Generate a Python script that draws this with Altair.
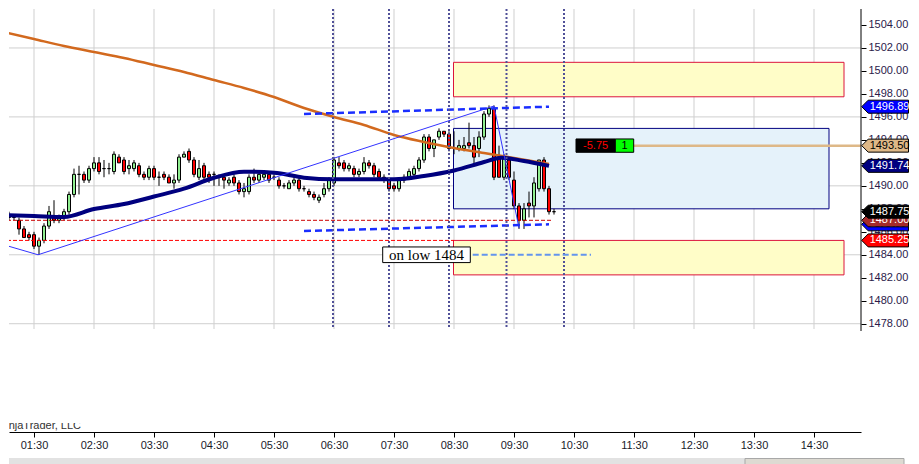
import altair as alt
import pandas as pd

# ---------------- data ----------------
# 5-minute bars, time in minutes after midnight
bar_times = list(range(60, 615, 5))
opens = [1487.75,1487.25,1487.25,1487.0,1486.25,1485.75,1485.75,1484.75,1485.25,1486.5,
         1487.25,1487.0,1487.25,1487.75,1489.25,1491.0,1491.0,1490.5,1491.5,1492.0,
         1491.5,1491.5,1491.25,1492.5,1492.25,1491.5,1491.5,1491.75,1491.0,1490.75,
         1491.5,1490.75,1491.0,1490.75,1490.25,1490.5,1492.5,1493.0,1492.25,1490.75,
         1491.75,1491.0,1491.0,1490.75,1490.75,1490.25,1490.75,1490.25,1489.5,1489.5,
         1490.75,1490.5,1490.75,1491.0,1490.75,1490.5,1490.0,1489.75,1490.25,1490.5,
         1489.75,1489.5,1489.25,1488.75,1489.25,1489.75,1490.25,1492.0,1492.0,1491.5,
         1491.5,1491.0,1491.25,1492.0,1491.75,1491.25,1490.75,1490.5,1490.0,1489.75,
         1490.5,1490.75,1491.0,1491.5,1492.25,1494.25,1493.25,1494.25,1494.75,1494.5,
         1493.25,1493.25,1493.25,1493.75,1493.5,1493.25,1494.25,1496.25,1496.75,1492.5,
         1490.75,1492.25,1490.5,1488.25,1487.0,1488.5,1488.25,1489.75,1492.25,1489.75,
         1487.75]
highs = [1488.5,1487.75,1487.5,1487.25,1486.5,1486.0,1486.0,1485.5,1486.75,1488.25,
         1488.75,1487.5,1488.0,1489.5,1491.5,1491.75,1491.25,1491.75,1492.5,1492.5,
         1492.25,1492.0,1493.0,1492.75,1492.5,1492.25,1492.25,1492.0,1491.25,1491.75,
         1491.75,1491.25,1491.25,1491.0,1491.0,1492.75,1493.0,1493.25,1492.5,1492.25,
         1492.0,1491.25,1491.25,1491.0,1491.0,1490.75,1491.0,1490.5,1490.25,1491.0,
         1491.5,1491.25,1491.25,1491.25,1491.0,1490.75,1490.25,1490.5,1490.75,1490.75,
         1490.0,1489.75,1489.5,1489.25,1490.25,1490.75,1492.5,1492.5,1492.25,1492.0,
         1491.75,1491.5,1492.5,1492.25,1492.0,1491.5,1491.0,1490.75,1490.25,1490.75,
         1491.0,1491.5,1491.75,1492.5,1494.5,1494.5,1494.0,1495.0,1494.75,1494.75,
         1494.75,1494.0,1494.25,1495.5,1494.25,1494.75,1496.5,1497.0,1497.0,1493.5,
         1492.75,1492.5,1491.25,1488.5,1488.5,1489.5,1490.75,1492.25,1492.5,1490.0,
         1488.0]
lows = [1487.25,1487.0,1487.0,1485.75,1485.5,1485.25,1484.5,1484.0,1485.0,1486.25,
        1486.75,1486.75,1487.0,1487.5,1489.0,1489.25,1490.25,1490.25,1491.25,1491.0,
        1490.75,1491.0,1491.0,1492.0,1491.0,1491.0,1491.25,1490.75,1490.5,1490.5,
        1490.5,1490.0,1490.5,1490.25,1489.75,1490.25,1492.5,1492.0,1490.75,1490.5,
        1490.5,1490.25,1490.0,1490.0,1489.75,1490.0,1490.0,1489.25,1489.0,1489.25,
        1490.25,1490.25,1490.5,1490.25,1490.5,1489.75,1489.75,1489.75,1490.0,1489.5,
        1489.5,1489.0,1488.75,1488.5,1489.0,1489.5,1490.0,1491.5,1491.25,1491.25,
        1490.75,1490.75,1491.0,1491.5,1490.75,1490.5,1490.25,1489.5,1489.5,1489.5,
        1490.25,1490.5,1490.75,1491.25,1492.0,1493.0,1492.5,1494.0,1494.25,1493.0,
        1492.75,1493.0,1493.0,1493.25,1491.75,1492.5,1494.0,1496.0,1490.5,1490.75,
        1490.5,1490.5,1488.0,1486.25,1486.25,1487.25,1487.25,1489.5,1489.5,1487.5,
        1487.5]
closes = [1487.5,1487.25,1487.25,1486.25,1485.5,1485.5,1484.75,1485.25,1486.5,1487.75,
          1487.0,1487.25,1487.75,1489.25,1491.0,1491.0,1490.5,1491.5,1492.0,1491.25,
          1491.5,1491.5,1492.75,1492.0,1491.25,1491.75,1492.0,1491.0,1490.75,1491.5,
          1490.75,1490.75,1490.75,1490.25,1490.5,1492.5,1492.75,1492.25,1491.0,1491.5,
          1490.75,1490.75,1491.0,1490.75,1490.5,1490.5,1490.25,1489.5,1489.75,1490.75,
          1490.5,1491.0,1491.0,1490.5,1490.75,1490.0,1490.0,1490.25,1490.5,1489.75,
          1489.75,1489.25,1489.0,1489.0,1489.75,1490.5,1492.25,1491.75,1491.5,1491.75,
          1491.0,1491.25,1492.0,1491.75,1491.0,1490.75,1490.5,1489.75,1489.75,1490.5,
          1490.75,1491.25,1491.5,1492.25,1494.25,1493.25,1494.0,1494.75,1494.5,1493.25,
          1493.25,1493.5,1493.5,1493.5,1492.5,1494.25,1496.25,1496.75,1490.75,1490.75,
          1492.5,1490.75,1488.25,1487.0,1488.0,1488.25,1490.25,1492.25,1489.75,1487.75,
          1487.75]

# orange moving average (sampled)
sma_t = [60, 90, 120, 150, 180, 210, 240, 270, 300, 330, 360, 390, 420, 450, 480, 510, 540, 570, 605]
sma_v = [1503.39, 1502.78, 1502.17, 1501.65, 1501.13, 1500.52, 1499.91, 1499.21, 1498.52, 1497.73,
         1496.77, 1495.99, 1495.30, 1494.43, 1493.82, 1493.29, 1492.86, 1492.42, 1491.90]
# navy moving average (sampled)
ema_t = [60, 90, 120, 150, 180, 210, 240, 270, 300, 330, 360, 390, 420, 450, 480, 510, 540, 557, 580, 605]
ema_v = [1487.46, 1487.38, 1487.29, 1487.98, 1488.42, 1489.07, 1489.75, 1490.70, 1491.23, 1491.14,
         1490.71, 1490.57, 1490.57, 1490.57, 1490.86, 1491.34, 1492.07, 1492.45, 1492.16, 1491.74]

# thin blue swing line
swing_t = [57, 94, 550, 575]
swing_p = [1484.94, 1484.0, 1496.95, 1486.33]
# dashed blue channel lines
chan_id = ["up", "up", "low", "low"]
chan_t = [360, 605, 360, 605]
chan_p = [1496.25, 1496.89, 1486.07, 1486.65]
# red dashed horizontal levels
lvl_p = [1487.00, 1485.25]
lvl_t0 = [57, 57]
lvl_t1 = [607, 510]
lvl_col = ["#CC0000", "#FF0000"]
# dotted vertical markers
vmark_t = [389, 445, 505, 562.5, 620]
# zones
zone_t0 = [509.5, 509.5, 509.5]
zone_t1 = [900, 900, 885]
zone_p0 = [1497.75, 1482.25, 1488.0]
zone_p1 = [1500.75, 1485.25, 1495.0]
zone_fill = ["#FFFDC8", "#FFFDC8", "#E5F2FA"]
zone_stroke = ["#DC143C", "#DC143C", "#000080"]
# position
entry_price = 1493.50
pnl_text = "-5.75"
qty_text = "1"
# note
note_text = "on low 1484"
note_price = 1484.0
# price tags on axis (drawing order)
tag_p = [1496.89, 1493.50, 1491.74, 1486.65, 1487.00, 1487.75, 1485.25]
tag_bg = ["#0000FF", "#DEB887", "#000080", "#0000FF", "#A52A2A", "#000000", "#FF0000"]
tag_fg = ["white", "black", "white", "white", "white", "white", "white"]

grid_t = list(range(90, 871, 60))
grid_p = [1478, 1484, 1490, 1496, 1502]
ytick_vals = list(range(1478, 1506, 2))

# ---------------- scales & axes ----------------
W, H = 852, 423
XS = alt.Scale(domain=[65, 917], nice=False, zero=False)
YS = alt.Scale(domain=[1468.576, 1505.391], nice=False, zero=False)
FONT = "Liberation Sans"
xaxis = alt.Axis(orient="bottom", values=grid_t, title=None, grid=False,
                 domain=True, domainColor="black", domainWidth=1,
                 ticks=True, tickColor="black", tickSize=5, labelPadding=2,
                 labelFont=FONT, labelFontSize=11, labelColor="#1a1a2a",
                 labelFlush=False, labelOverlap=False, zindex=0,
                 labelExpr="(floor(datum.value/60) < 10 ? '0' : '') + floor(datum.value/60) + ':' + ((datum.value % 60) < 10 ? '0' : '') + (datum.value % 60)")
yaxis = alt.Axis(orient="right", values=ytick_vals, title=None, grid=False,
                 domain=False, ticks=True, tickColor="black", tickSize=5, labelPadding=2,
                 labelFont=FONT, labelFontSize=11, labelColor="#2b1a4a",
                 labelFlush=False, labelOverlap=False, zindex=0,
                 labelExpr="format(datum.value, '.2f')")


def X(f):
    return alt.X(f, type="quantitative", scale=XS, axis=xaxis)


def Y(f):
    return alt.Y(f, type="quantitative", scale=YS, axis=yaxis)


layers = []

# grid
layers.append(alt.Chart(pd.DataFrame({"t": grid_t})).mark_rule(color="#CFCFCF", strokeWidth=1)
              .encode(x=X("t"), y=alt.value(0), y2=alt.value(320)))
layers.append(alt.Chart(pd.DataFrame({"p": grid_p})).mark_rule(color="#CFCFCF", strokeWidth=1)
              .encode(y=Y("p"), x=alt.value(0), x2=alt.value(W)))

# zones
zones = pd.DataFrame({"t0": zone_t0, "t1": zone_t1, "p0": zone_p0, "p1": zone_p1,
                      "f": zone_fill, "s": zone_stroke})
layers.append(alt.Chart(zones).mark_rect(strokeWidth=1, clip=True).encode(
    x=X("t0"), x2="t1", y=Y("p0"), y2="p1",
    fill=alt.Fill("f:N", scale=None), stroke=alt.Stroke("s:N", scale=None)))

# candles
cdf = pd.DataFrame({"t": bar_times, "o": opens, "h": highs, "l": lows, "c": closes})
cdf["dir"] = ["up" if c >= o else "down" for o, c in zip(opens, closes)]
cdf["x0"] = cdf["t"] - 1.5
cdf["x1"] = cdf["t"] + 1.5
layers.append(alt.Chart(cdf).mark_rule(color="black", strokeWidth=1, clip=True)
              .encode(x=X("t"), y=Y("l"), y2="h"))
layers.append(alt.Chart(cdf).mark_rect(stroke="black", strokeWidth=1, clip=True).encode(
    x=X("x0"), x2="x1", y=Y("o"), y2="c",
    fill=alt.Fill("dir:N", scale=alt.Scale(domain=["up", "down"], range=["#90EE90", "#FF0000"]), legend=None)))

# moving averages
layers.append(alt.Chart(pd.DataFrame({"t": sma_t, "v": sma_v}))
              .mark_line(color="#D2691E", strokeWidth=2.5, clip=True, interpolate="monotone")
              .encode(x=X("t"), y=Y("v")))
layers.append(alt.Chart(pd.DataFrame({"t": ema_t, "v": ema_v}))
              .mark_line(color="#00007F", strokeWidth=4, clip=True, interpolate="monotone")
              .encode(x=X("t"), y=Y("v")))

# red dashed levels
layers.append(alt.Chart(pd.DataFrame({"p": lvl_p, "t0": lvl_t0, "t1": lvl_t1, "col": lvl_col}))
              .mark_rule(strokeWidth=1, strokeDash=[4, 2], clip=True)
              .encode(x=X("t0"), x2="t1", y=Y("p"), color=alt.Color("col:N", scale=None)))

# thin swing line
layers.append(alt.Chart(pd.DataFrame({"t": swing_t, "p": swing_p}))
              .mark_line(color="#3333FF", strokeWidth=1, clip=True)
              .encode(x=X("t"), y=Y("p")))
# dashed channel lines
layers.append(alt.Chart(pd.DataFrame({"id": chan_id, "t": chan_t, "p": chan_p}))
              .mark_line(color="#1A2EFF", strokeWidth=2.5, strokeDash=[7, 4], clip=True)
              .encode(x=X("t"), y=Y("p"), detail="id:N"))

# dotted verticals
layers.append(alt.Chart(pd.DataFrame({"t": vmark_t}))
              .mark_rule(color="#505098", strokeWidth=2, strokeDash=[2, 2])
              .encode(x=X("t"), y=alt.value(0), y2=alt.value(320)))

# note box "on low 1484"
note = pd.DataFrame({"t0": [438.7], "t1": [526.3], "tc": [482.5],
                     "p0": [note_price - 0.68], "p1": [note_price + 0.68], "pc": [note_price],
                     "s": [note_text], "d0": [528.7], "d1": [647]})
layers.append(alt.Chart(note).mark_rule(color="#6495ED", strokeWidth=2, strokeDash=[6, 3])
              .encode(x=X("d0"), x2="d1", y=Y("pc")))
layers.append(alt.Chart(note).mark_rect(fill="white", stroke="black", strokeWidth=1)
              .encode(x=X("t0"), x2="t1", y=Y("p0"), y2="p1"))
layers.append(alt.Chart(note).mark_text(font="Liberation Serif", fontSize=15, color="black")
              .encode(x=X("tc"), y=Y("pc"), text="s:N"))

# position line and P&L label
pos = pd.DataFrame({"p": [entry_price], "p0": [entry_price - 0.58], "p1": [entry_price + 0.58],
                    "a0": [632.0], "a1": [671.3], "b1": [689.7], "e": [917.0],
                    "ac": [651.6], "bc": [680.5], "pnl": [pnl_text], "q": [qty_text]})
layers.append(alt.Chart(pos).mark_rule(color="#DEB887", strokeWidth=2.5)
              .encode(x=X("b1"), x2="e", y=Y("p")))
layers.append(alt.Chart(pos).mark_rect(fill="black", stroke="black", strokeWidth=1)
              .encode(x=X("a0"), x2="a1", y=Y("p0"), y2="p1"))
layers.append(alt.Chart(pos).mark_rect(fill="#00FF00", stroke="black", strokeWidth=1)
              .encode(x=X("a1"), x2="b1", y=Y("p0"), y2="p1"))
layers.append(alt.Chart(pos).mark_text(font=FONT, fontSize=11, color="#FF0000")
              .encode(x=X("ac"), y=Y("p"), text="pnl:N"))
layers.append(alt.Chart(pos).mark_text(font=FONT, fontSize=11, color="black")
              .encode(x=X("bc"), y=Y("p"), text="q:N"))

# copyright text (top clipped)
cp = pd.DataFrame({"s": ["\u00a9 2013 NinjaTrader, LLC"]})
layers.append(alt.Chart(cp).mark_text(font=FONT, fontSize=11, color="#333333", align="right",
                                      baseline="alphabetic", clip=True)
              .encode(x=alt.value(72), y=alt.value(420), text="s:N"))
layers.append(alt.Chart(cp).mark_rect(color="white")
              .encode(x=alt.value(0), x2=alt.value(100), y=alt.value(400), y2=alt.value(414)))

# right axis line
layers.append(alt.Chart(cp).mark_rule(color="black", strokeWidth=1)
              .encode(x=alt.value(W), y=alt.value(0), y2=alt.value(322)))

# scrollbar strip at the window bottom
layers.append(alt.Chart(cp).mark_rect(fill="#E2E2E2", stroke=None)
              .encode(x=alt.value(0), x2=alt.value(736), y=alt.value(449), y2=alt.value(456)))
layers.append(alt.Chart(cp).mark_rect(fill="#DDDAD2", stroke="#A8A8A8", strokeWidth=1)
              .encode(x=alt.value(736), x2=alt.value(895), y=alt.value(449.5), y2=alt.value(456)))

# price tags
TAG_PATH = "M0,0L1,-1L7.2,-1L7.2,1L1,1Z"
for p, bg, fg in zip(tag_p, tag_bg, tag_fg):
    tdf = pd.DataFrame({"p": [p], "s": [f"{p:.2f}"]})
    layers.append(alt.Chart(tdf).mark_point(shape=TAG_PATH, filled=True, fill=bg, stroke="black",
                                            strokeWidth=1, size=169, opacity=1)
                  .encode(x=alt.value(852.7), y=Y("p")))
    layers.append(alt.Chart(tdf).mark_text(font=FONT, fontSize=11, color=fg)
                  .encode(x=alt.value(880.5), y=Y("p"), text="s:N"))

chart = (alt.layer(*layers)
         .properties(width=W, height=H, padding=0, background="white")
         .configure_view(strokeWidth=0))

chart.save("out.html", embed_options={"renderer": "svg", "actions": False})
